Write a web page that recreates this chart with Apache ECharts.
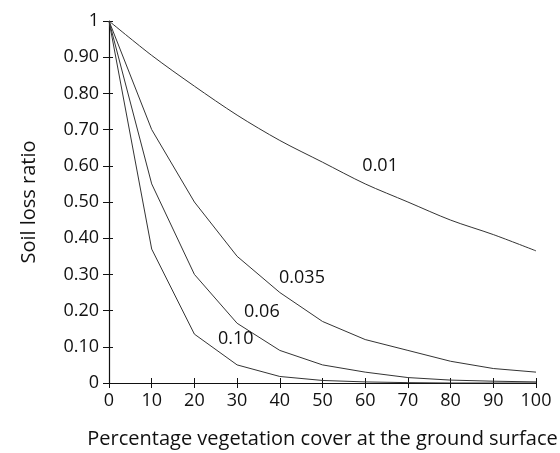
<!DOCTYPE html>
<html>
<head>
<meta charset="utf-8">
<script src="https://cdn.jsdelivr.net/npm/echarts@6/dist/echarts.min.js"></script>
<style>
html,body{margin:0;padding:0;background:#fff;}
#main{width:560px;height:453px;}
</style>
</head>
<body>
<div id="main"></div>
<script>
// percentage vegetation cover
var cover = [0, 10, 20, 30, 40, 50, 60, 70, 80, 90, 100];
// soil loss ratio, b = 0.01 / 0.035 / 0.06 / 0.10
var b001  = [1, 0.905, 0.82, 0.74, 0.67, 0.61, 0.55, 0.50, 0.45, 0.41, 0.365];
var b0035 = [1, 0.70, 0.50, 0.35, 0.25, 0.17, 0.12, 0.09, 0.06, 0.04, 0.03];
var b006  = [1, 0.55, 0.30, 0.165, 0.09, 0.05, 0.03, 0.015, 0.008, 0.005, 0.003];
var b010  = [1, 0.37, 0.135, 0.05, 0.018, 0.007, 0.003, 0.001, 0, 0, 0];
var curveNames = ['0.01', '0.035', '0.06', '0.10'];

var font = 'Open Sans';
var chart = echarts.init(document.getElementById('main'));

function pairs(ys){
	var out = [];
	for(var i = 0; i < cover.length; i++){
		out.push([cover[i], ys[i]]);
	}
	return out;
}

// label spots for each curve (data coords)
var labelAt = [[63.5, 0.6], [45.2, 0.29], [35.8, 0.196], [29.7, 0.122]];
var allY = [b001, b0035, b006, b010];

var series = [];
for(var k = 0; k < allY.length; k++){
	series.push({
		name: curveNames[k],
		type: 'line',
		data: pairs(allY[k]),
		symbol: 'none',
		smooth: k == 0 ? 0.3 : false,
		lineStyle: {color: '#333', width: 1},
		markPoint: {
			symbol: 'circle',
			symbolSize: 0,
			label: {
				show: true,
				formatter: curveNames[k],
				color: '#111',
				fontFamily: font,
				fontSize: 18
			},
			data: [{coord: labelAt[k]}]
		},
		silent: true
	});
}

var axisText = {color: '#111', fontFamily: font, fontSize: 18};

var option = {
	animation: false,
	grid: {left: 109, right: 24, top: 21, bottom: 70, outerBoundsMode: 'none'},
	xAxis: [{
		type: 'value',
		min: 0, max: 100, interval: 10,
		name: 'Percentage vegetation cover at the ground surface',
		nameLocation: 'middle',
		nameGap: 46,
		nameTextStyle: {color: '#111', fontFamily: font, fontSize: 20},
		axisLine: {lineStyle: {color: '#111', width: 1.2}},
		axisTick: {show: true, length: 5, lineStyle: {color: '#111'}},
		axisLabel: {color: '#111', fontFamily: font, fontSize: 18, margin: 9},
		splitLine: {show: false}
	}, {
		// inner half of the crossing ticks
		type: 'value',
		position: 'bottom',
		min: 0, max: 100, interval: 10,
		axisLine: {show: false},
		axisTick: {show: true, inside: true, length: 5, lineStyle: {color: '#111'}},
		axisLabel: {show: false},
		splitLine: {show: false}
	}],
	yAxis: [{
		type: 'value',
		min: 0, max: 1, interval: 0.1,
		name: 'Soil loss ratio',
		nameLocation: 'middle',
		nameGap: 70,
		nameRotate: 90,
		nameTextStyle: {color: '#111', fontFamily: font, fontSize: 20},
		axisLine: {show: true, lineStyle: {color: '#111', width: 1.2}},
		axisTick: {show: true, length: 6, lineStyle: {color: '#111'}},
		axisLabel: {
			color: '#111', fontFamily: font, fontSize: 18, margin: 10,
			formatter: function(v){
				if(v == 0) return '0';
				if(v >= 0.999) return '1';
				return v.toFixed(2);
			}
		},
		splitLine: {show: false}
	}, {
		type: 'value',
		position: 'left',
		min: 0, max: 1, interval: 0.1,
		axisLine: {show: false},
		axisTick: {show: true, inside: true, length: 4, lineStyle: {color: '#111'}},
		axisLabel: {show: false},
		splitLine: {show: false}
	}],
	series: series
};
chart.setOption(option);
</script>
</body>
</html>
